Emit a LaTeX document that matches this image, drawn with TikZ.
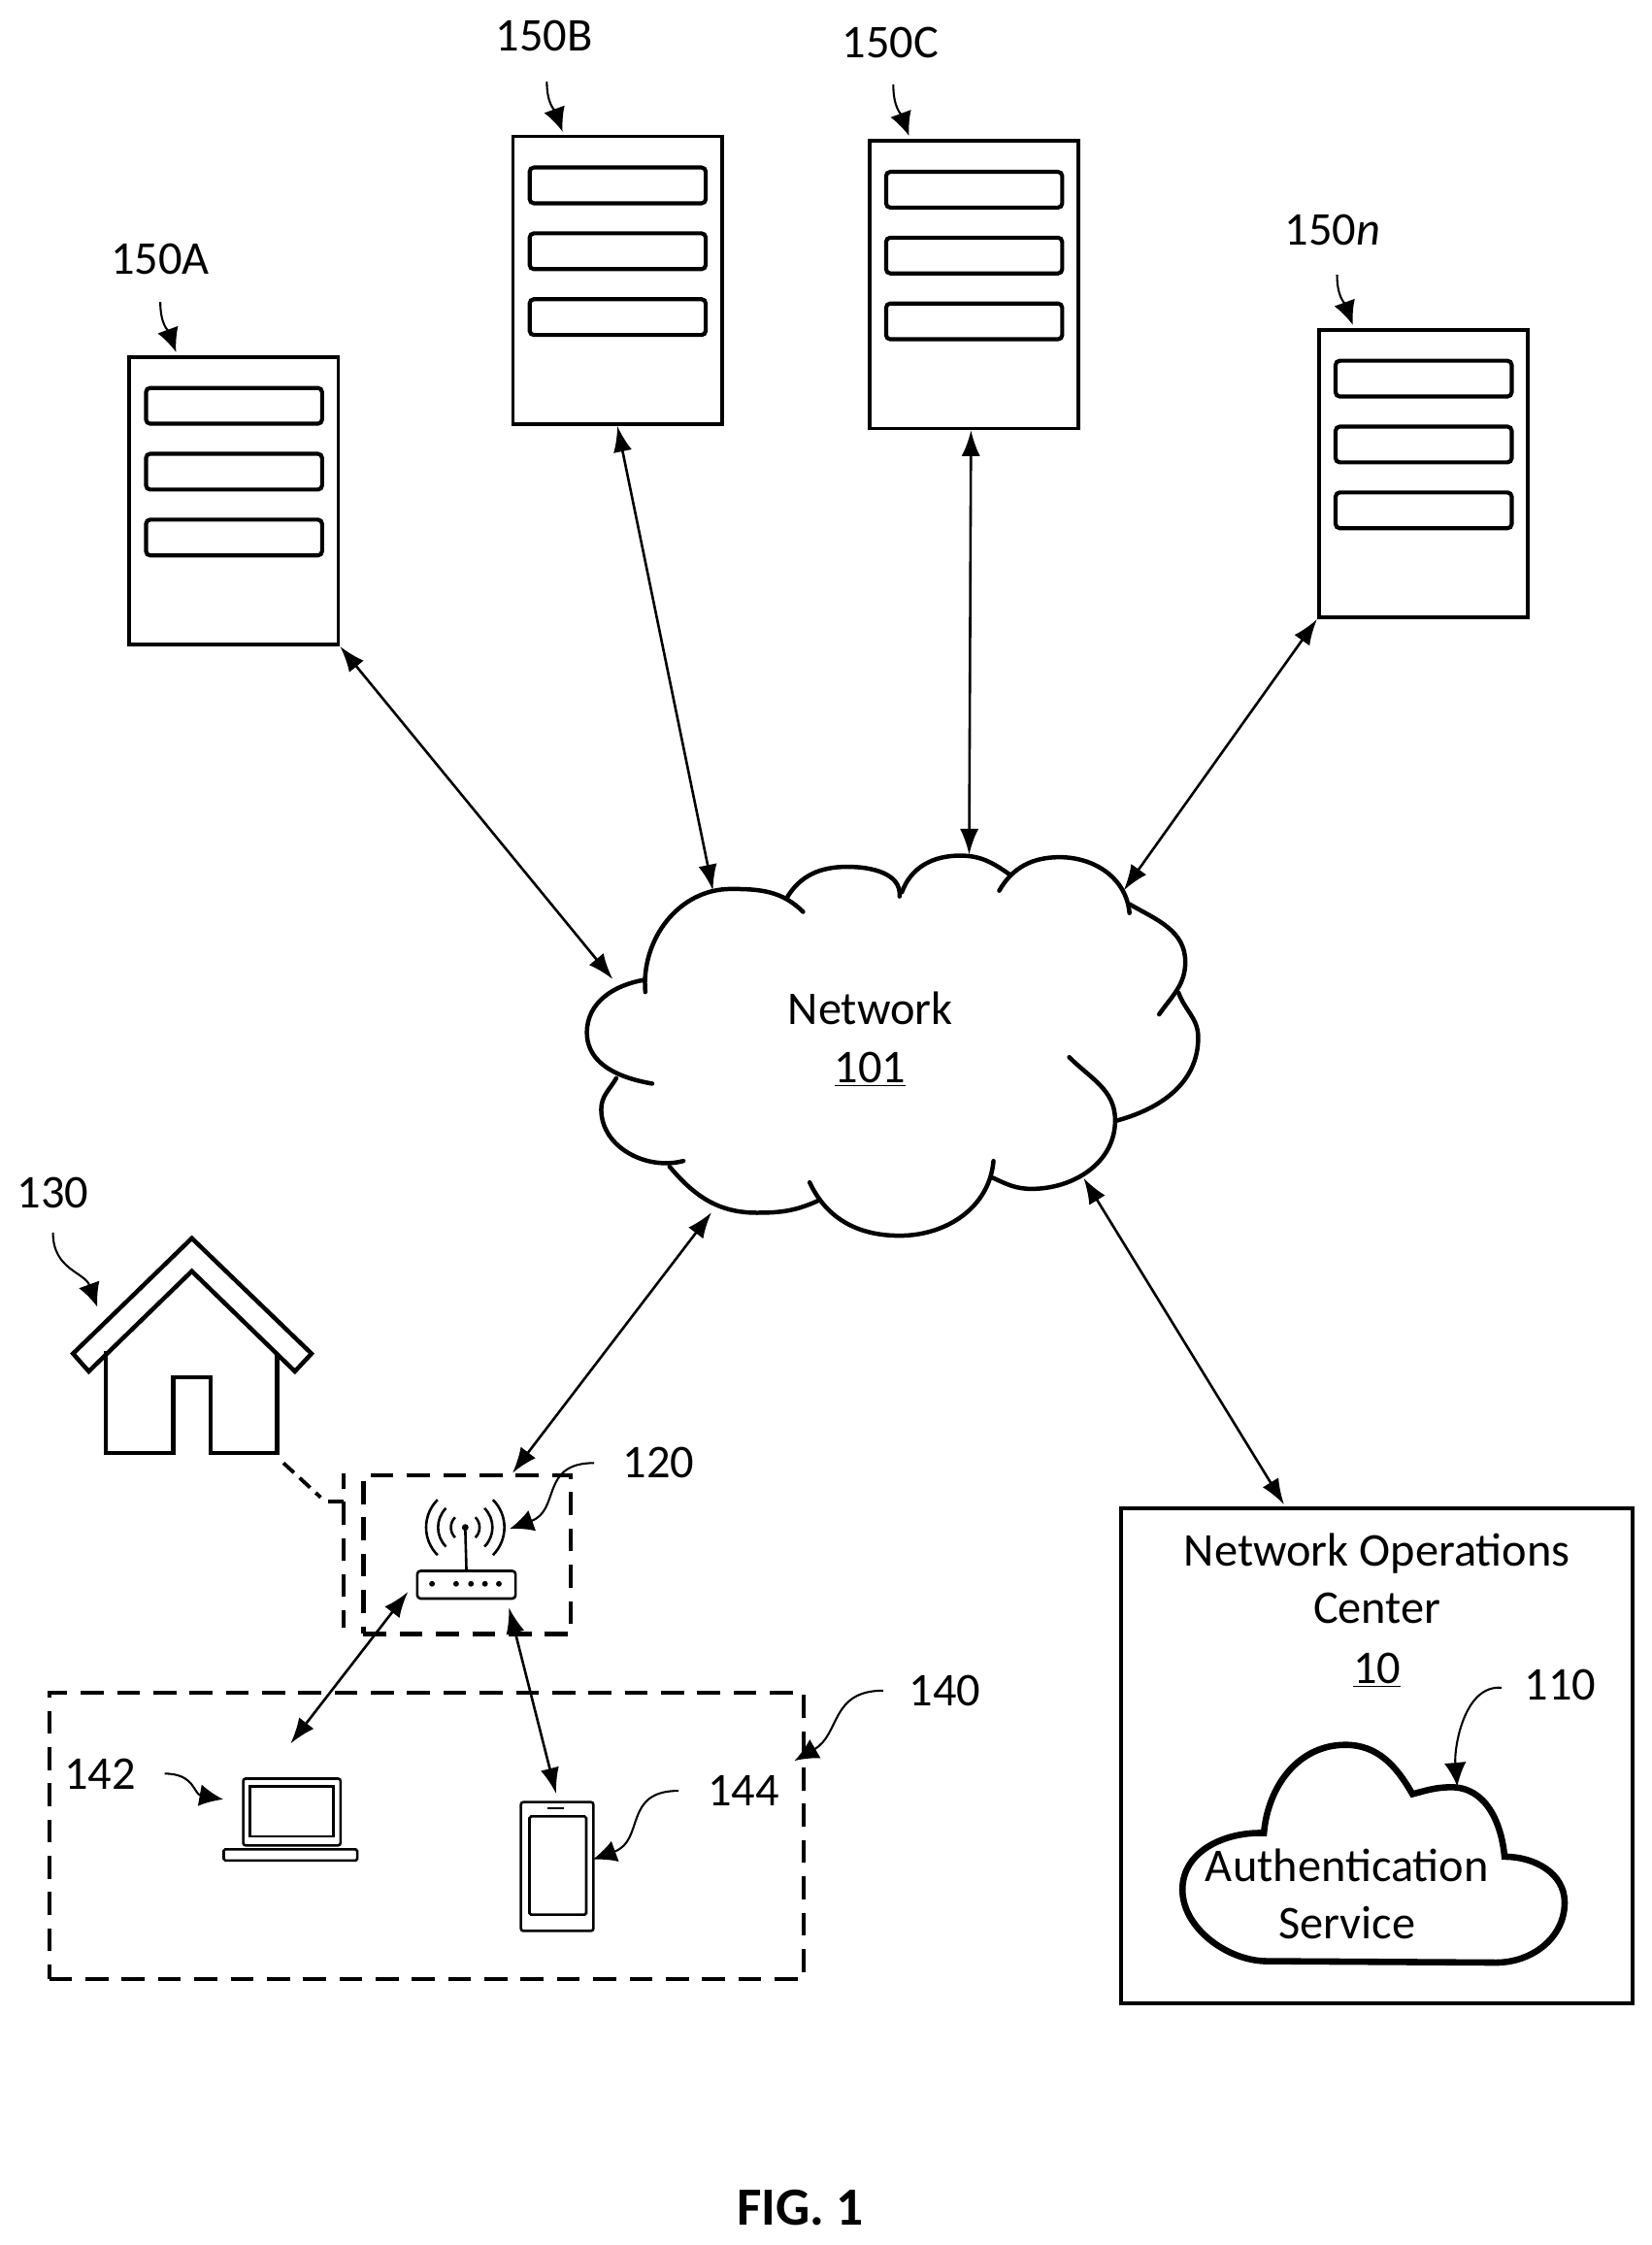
\documentclass[tikz,border=0pt]{standalone}
\usepackage{fontspec}
\setmainfont{Carlito}
\usetikzlibrary{arrows.meta}
\tikzset{
  lbl/.style={font=\fontsize{28}{34}\selectfont, inner sep=0pt, align=center},
  srv/.style={draw, line width=2.2pt, anchor=north west, minimum width=4.38cm, minimum height=6.03cm},
  slot/.style={draw, line width=2.4pt, rounded corners=2.5pt, minimum width=3.69cm, minimum height=0.75cm},
  link/.style={line width=1.5pt, {Latex[length=5.4mm,width=3.9mm]}-{Latex[length=5.4mm,width=3.9mm]}},
  callout/.style={line width=1.2pt, -{Latex[length=5mm,width=4.6mm]}},
  dashbox/.style={draw, line width=2.4pt, dash pattern=on 0.48cm off 0.28cm},
  cloudline/.style={line width=2.6pt, line cap=round},
  icon/.style={draw, line width=1.5pt}
}
\begin{document}
\begin{tikzpicture}[x=0.03cm,y=-0.03cm]
  \useasboundingbox (0,0) rectangle (1154,1568.3);

  % servers
  \foreach \name/\x/\y in {A/89/248,B/357/94,C/606/97,N/920/229}{
    \node[srv] (srv\name) at (\x,\y) {};
    \node[slot] (slot\name1) at (\x+74.5,\y+35.5) {};
    \node[slot] (slot\name2) at (\x+74.5,\y+81.5) {};
    \node[slot] (slot\name3) at (\x+74.5,\y+127.5) {};
  }
  \node[lbl] (lblA) at (112,181) {150A};
  \node[lbl] (lblB) at (380,25) {150B};
  \node[lbl] (lblC) at (622,30) {150C};
  \node[lbl] (lblN) at (931,161) {150\textit{n}};

  % server callouts
  \coordinate (fromA) at (112,211);
  \coordinate (toA) at (123,246);
  \coordinate (fromB) at (382,57);
  \coordinate (toB) at (393,92);
  \coordinate (fromC) at (624,59);
  \coordinate (toC) at (635,95);
  \coordinate (fromN) at (934,192);
  \coordinate (toN) at (945,227);
  \foreach \name in {A,B,C,N}{
    \draw[callout] (from\name) to[out=-90,in=110,looseness=1.1] (to\name);
  }

  % network cloud
  \node[lbl] (net) at (608,726) {Network\\[1pt]\underline{101}};
  \begin{scope}[cloudline]
    \draw (450.8,693) to[out=95,in=180] (510.6,621) to[out=0,in=135] (561,637);
    \draw (549.3,627.8) to[out=60,in=180] (592,605.5) to[out=0,in=85] (628.4,626.2);
    \draw (630,623.3) to[out=70,in=180] (670.7,597.7) to[out=0,in=145] (705.5,611);
    \draw (698,622.2) to[out=60,in=180] (740.2,598.8) to[out=0,in=95] (789,637.8);
    \draw (789,631.6) to[out=-30,in=90] (828,672) to[out=-90,in=55] (809.7,708.6);
    \draw (823.3,693.5) to[out=-70,in=90] (837,724.7) to[out=-90,in=15] (779.5,783);
    \draw (746.9,738.5) to[out=-45,in=90] (779,782.6) to[out=-90,in=0] (720.6,830.5) to[out=180,in=-25] (693.4,822.7);
    \draw (694,811) to[out=-95,in=0] (628.4,863.2) to[out=180,in=-65] (565.6,826);
    \draw (572.5,838.3) to[out=205,in=0] (528.7,847.2) to[out=180,in=-50] (467.7,814.9);
    \draw (477.4,811) to[out=195,in=-90] (420,775) to[out=90,in=-120] (430.5,753.2);
    \draw (455.6,757) to[out=170,in=-90] (410,721.3) to[out=90,in=190] (449.6,684.6);
  \end{scope}

  % cloud ends of the links
  \coordinate (netA) at (428,684);
  \coordinate (netB) at (498,622);
  \coordinate (netC) at (677,597);
  \coordinate (netN) at (785,622);
  \coordinate (netR) at (497,847);
  \coordinate (netO) at (757,823);

  \draw[link] (srvA.south east) -- (netA);
  \draw[link] (srvB.south) -- (netB);
  \draw[link] ([xshift=-0.06cm]srvC.south) -- (netC);
  \draw[link] (srvN.south west) -- (netN);

  % house
  \draw[line width=2.6pt,line join=miter] (134,865) -- (217.6,945.6) -- (206,958) -- (134,888) -- (62,958) -- (51,945.6) -- cycle;
  \draw[line width=2.6pt] (74,944) -- (74,1015) -- (121,1015) -- (121,962) -- (147,962) -- (147,1015) -- (193.5,1015) -- (193.5,945);
  \node[lbl] (lblH) at (37,833) {130};
  \coordinate (fromH) at (37,861);
  \coordinate (toH) at (68,913);
  \draw[callout] (fromH) to[out=-90,in=110,looseness=1.1] (toH);

  % router box and link to the house
  \node[dashbox, anchor=north west, minimum width=4.35cm, minimum height=3.33cm] (rbox) at (252.5,1029) {};
  \coordinate (hcorner) at (198,1022);
  \coordinate (hbend) at (224,1046);
  \coordinate (hturn) at (240,1049);
  \coordinate (hend) at (240,1137);
  \coordinate (stubtop) at (240,1029);
  \coordinate (stubend) at (240,1040);
  \draw[line width=2.2pt, dash pattern=on 0.3cm off 0.16cm] (hcorner) -- (hbend);
  \draw[dashbox] (hturn) -- (hend);
  \draw[line width=2.2pt] (229,1049) -- (hturn);
  \draw[line width=2.2pt] (stubtop) -- (stubend);

  % router
  \node[icon, rounded corners=2pt, anchor=north west, minimum width=2.06cm, minimum height=0.58cm] (rbody) at (290.6,1096.5) {};
  \coordinate (wifi) at (325,1067);
  \draw[icon] (rbody.north) -- (wifi);
  \fill (wifi) circle (0.07cm);
  \foreach \r in {0.3,0.57,0.82}{
    \draw[icon] (wifi) ++(-45:\r cm) arc[start angle=-45,end angle=45,radius=\r cm];
    \draw[icon] (wifi) ++(135:\r cm) arc[start angle=135,end angle=225,radius=\r cm];
  }
  \foreach \x in {301.8,318.6,329,338.8,348.5}{
    \fill (\x,1106.4) circle (0.06cm);
  }
  \node[lbl] (lblR) at (460,1022) {120};
  \coordinate (fromR) at (415,1022);
  \coordinate (toR) at (356,1068);
  \draw[callout] (fromR) to[out=180,in=20,looseness=1.3] (toR);
  \coordinate (rboxin) at (358,1029);
  \draw[link] (netR) -- (rboxin);

  % user devices
  \node[dashbox, anchor=north west, minimum width=15.81cm, minimum height=6cm] (devices) at (33,1181) {};
  \node[lbl] (lblD) at (660,1181) {140};
  \coordinate (fromD) at (617,1181);
  \coordinate (toD) at (555,1230);
  \draw[callout] (fromD) to[out=180,in=30,looseness=1.2] (toD);

  % laptop
  \node[icon, rounded corners=1.5pt, anchor=north west, minimum width=2.04cm, minimum height=1.4cm] (laptop) at (169,1241.6) {};
  \node[icon, anchor=north west, minimum width=1.75cm, minimum height=1.05cm] (lapscreen) at (173.7,1247) {};
  \node[icon, rounded corners=1pt, anchor=north west, minimum width=2.8cm, minimum height=0.15cm] (lapbase) at (155.4,1291) {};
  \node[lbl] (lblL) at (70,1239) {142};
  \coordinate (fromL) at (115,1239);
  \coordinate (toL) at (156,1257);
  \draw[callout] (fromL) to[out=0,in=170,looseness=1.2] (toL);

  % phone
  \node[icon, rounded corners=1.5pt, anchor=north west, minimum width=1.52cm, minimum height=2.7cm] (phone) at (363,1258) {};
  \node[icon, rounded corners=1pt, anchor=north west, minimum width=1.19cm, minimum height=2.06cm] (phscreen) at (369,1268) {};
  \coordinate (spkL) at (382.7,1263);
  \coordinate (spkR) at (394,1263);
  \draw[line width=1pt] (spkL) -- (spkR);
  \node[lbl] (lblP) at (519.4,1251) {144};
  \coordinate (fromP) at (474,1251);
  \coordinate (toP) at (414,1299);
  \draw[callout] (fromP) to[out=180,in=20,looseness=1.3] (toP);

  % router to devices
  \coordinate (routerL) at (285,1112);
  \coordinate (routerP) at (355.5,1123);
  \coordinate (laptopin) at (203,1218);
  \coordinate (phonein) at (388.5,1253);
  \draw[link] (routerL) -- (laptopin);
  \draw[link] (routerP) -- (phonein);

  % operations center
  \node[draw, line width=2.4pt, anchor=north west, minimum width=10.71cm, minimum height=10.38cm] (noc) at (782,1052) {};
  \node[lbl] (noctext) at (962,1125) {Network Operations\\Center\\[2pt]\underline{10}};
  \coordinate (nocin) at (897,1051);
  \draw[link] (netO) -- (nocin);

  % authentication cloud
  \draw[line width=3.8pt, line join=miter] (882.9,1280.5) to[out=178,in=90] (826,1320) to[out=-90,in=180,looseness=0.9] (885,1370) -- (1045,1371)
    to[out=0,in=-90] (1093,1329) to[out=90,in=0] (1051,1297) to[out=95,in=0] (1014,1248.5) to[out=180,in=15] (986.7,1253.3)
    to[out=120,in=0] (939.8,1218.9) to[out=180,in=85] cycle;
  \node[lbl] (auth) at (941,1323) {Authentication\\Service};
  \node[lbl] (lblS) at (1090,1177) {110};
  \coordinate (fromS) at (1049,1179);
  \coordinate (toS) at (1018,1248);
  \draw[callout] (fromS) to[out=175,in=95,looseness=0.9] (toS);

  % caption
  \node[inner sep=0pt, font=\fontsize{32}{38}\selectfont\bfseries] (fig) at (559,1542) {FIG. 1};
\end{tikzpicture}
\end{document}
